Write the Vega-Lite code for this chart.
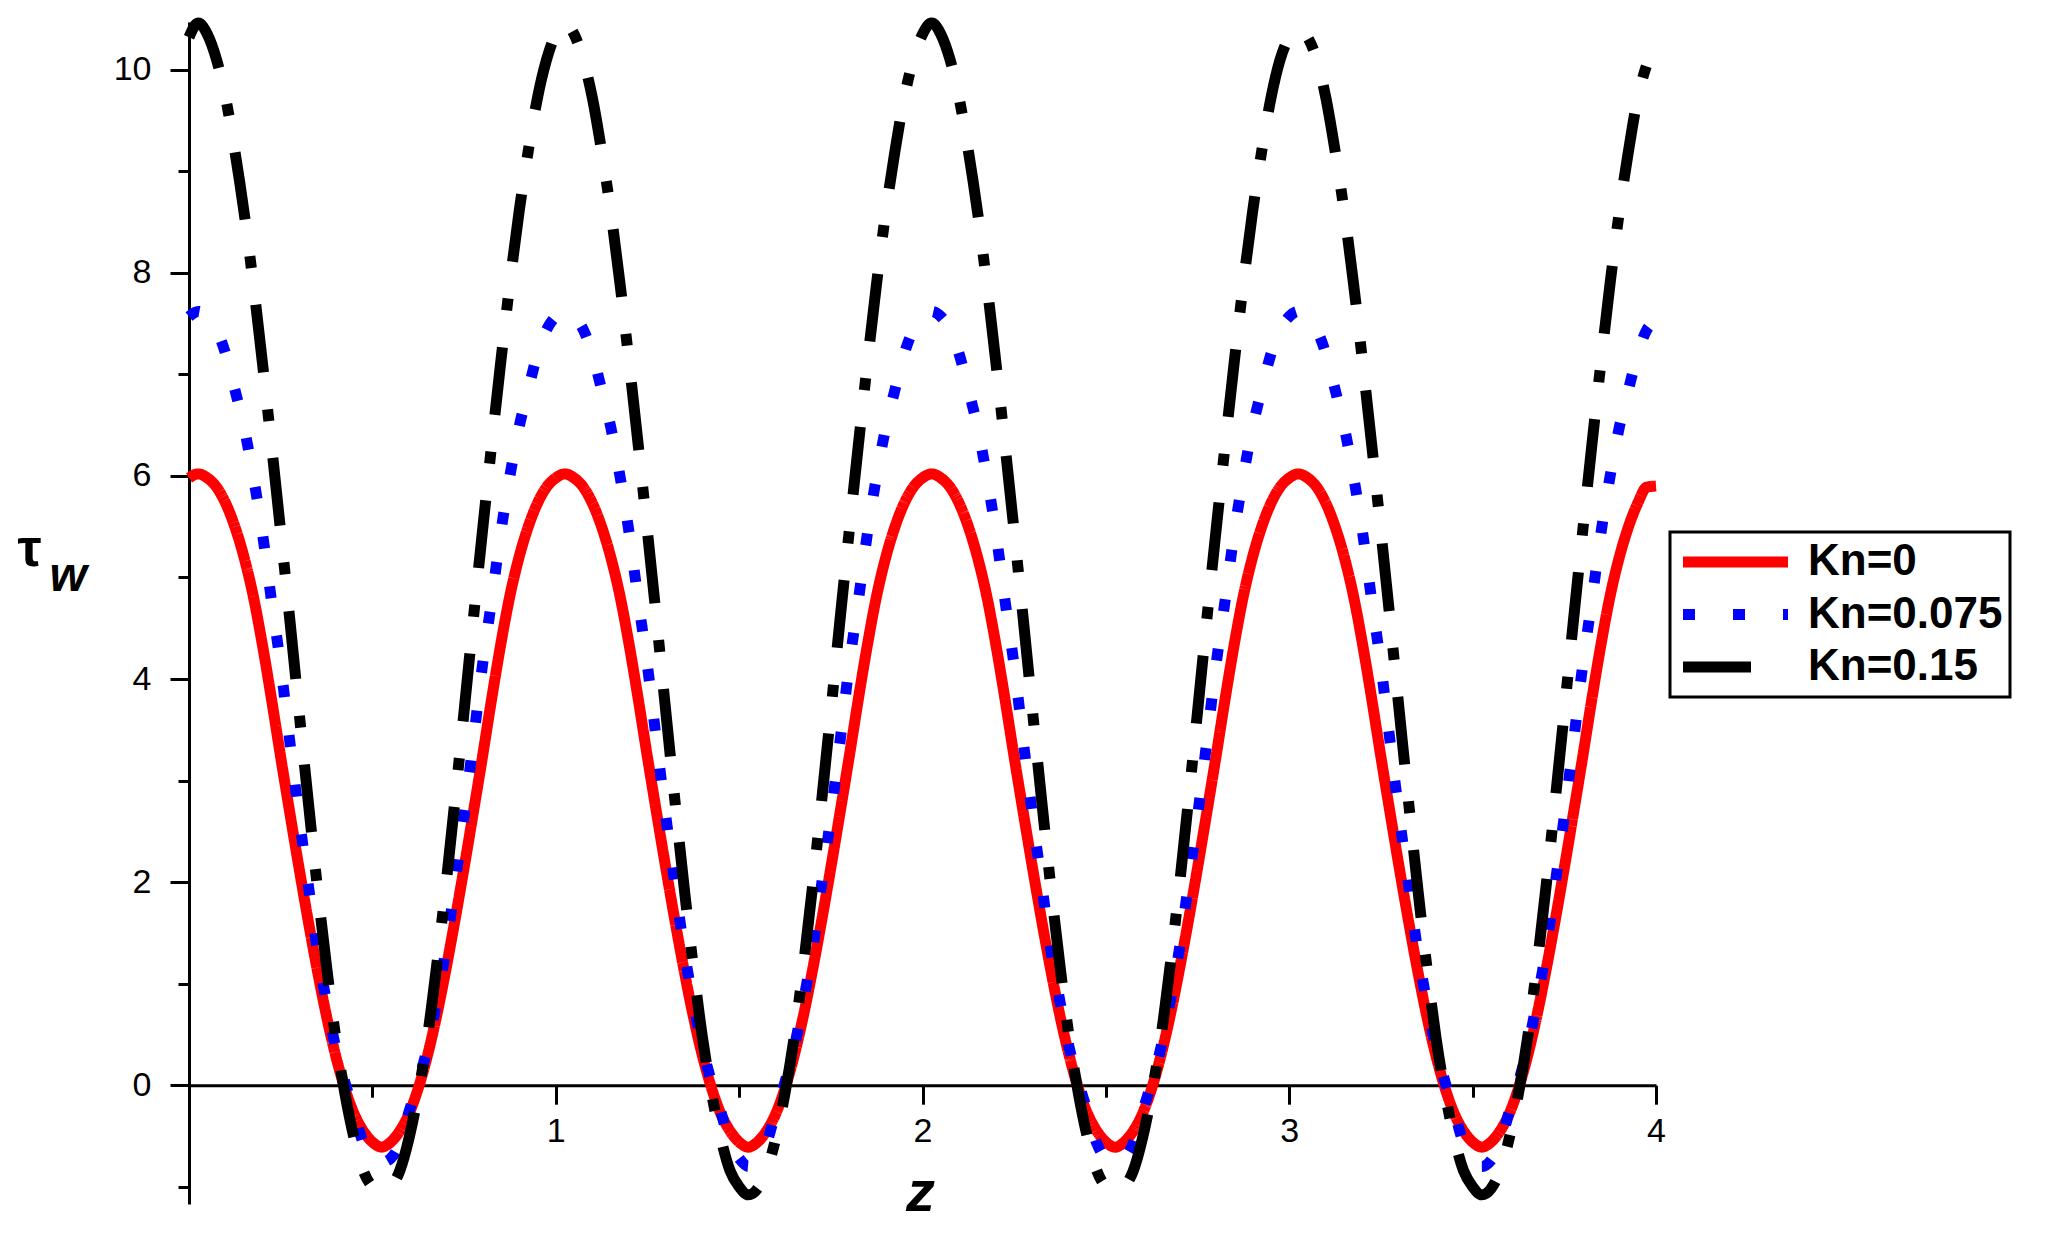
{
  "$schema": "https://vega.github.io/schema/vega-lite/v6.json",
  "autosize": {"type": "none"},
  "padding": {"left": 189, "top": 22, "right": 391, "bottom": 37},
  "width": 1467,
  "height": 1182,
  "background": "white",
  "layer": [
    {
      "data": {
        "values": [
          {"s":"Kn=0","z":0,"v":5.98},
          {"s":"Kn=0","z":0.025,"v":6.02},{"s":"Kn=0","z":0.05,"v":5.98},{"s":"Kn=0","z":0.075,"v":5.89},{"s":"Kn=0","z":0.1,"v":5.73},{"s":"Kn=0","z":0.125,"v":5.5},{"s":"Kn=0","z":0.15,"v":5.2},{"s":"Kn=0","z":0.175,"v":4.82},{"s":"Kn=0","z":0.2,"v":4.34},{"s":"Kn=0","z":0.225,"v":3.8},{"s":"Kn=0","z":0.25,"v":3.23},
          {"s":"Kn=0","z":0.275,"v":2.68},{"s":"Kn=0","z":0.3,"v":2.14},{"s":"Kn=0","z":0.325,"v":1.62},{"s":"Kn=0","z":0.35,"v":1.13},{"s":"Kn=0","z":0.375,"v":0.68},{"s":"Kn=0","z":0.4,"v":0.29},{"s":"Kn=0","z":0.425,"v":-0.03},{"s":"Kn=0","z":0.45,"v":-0.28},{"s":"Kn=0","z":0.475,"v":-0.45},{"s":"Kn=0","z":0.5,"v":-0.56},
          {"s":"Kn=0","z":0.525,"v":-0.61},{"s":"Kn=0","z":0.55,"v":-0.56},{"s":"Kn=0","z":0.575,"v":-0.45},{"s":"Kn=0","z":0.6,"v":-0.28},{"s":"Kn=0","z":0.625,"v":-0.03},{"s":"Kn=0","z":0.65,"v":0.29},{"s":"Kn=0","z":0.675,"v":0.68},{"s":"Kn=0","z":0.7,"v":1.13},{"s":"Kn=0","z":0.725,"v":1.62},{"s":"Kn=0","z":0.75,"v":2.14},
          {"s":"Kn=0","z":0.775,"v":2.68},{"s":"Kn=0","z":0.8,"v":3.23},{"s":"Kn=0","z":0.825,"v":3.8},{"s":"Kn=0","z":0.85,"v":4.34},{"s":"Kn=0","z":0.875,"v":4.82},{"s":"Kn=0","z":0.9,"v":5.2},{"s":"Kn=0","z":0.925,"v":5.5},{"s":"Kn=0","z":0.95,"v":5.73},{"s":"Kn=0","z":0.975,"v":5.89},{"s":"Kn=0","z":1,"v":5.98},
          {"s":"Kn=0","z":1.025,"v":6.02},{"s":"Kn=0","z":1.05,"v":5.98},{"s":"Kn=0","z":1.075,"v":5.89},{"s":"Kn=0","z":1.1,"v":5.73},{"s":"Kn=0","z":1.125,"v":5.5},{"s":"Kn=0","z":1.15,"v":5.2},{"s":"Kn=0","z":1.175,"v":4.82},{"s":"Kn=0","z":1.2,"v":4.34},{"s":"Kn=0","z":1.225,"v":3.8},{"s":"Kn=0","z":1.25,"v":3.23},
          {"s":"Kn=0","z":1.275,"v":2.68},{"s":"Kn=0","z":1.3,"v":2.14},{"s":"Kn=0","z":1.325,"v":1.62},{"s":"Kn=0","z":1.35,"v":1.13},{"s":"Kn=0","z":1.375,"v":0.68},{"s":"Kn=0","z":1.4,"v":0.29},{"s":"Kn=0","z":1.425,"v":-0.03},{"s":"Kn=0","z":1.45,"v":-0.28},{"s":"Kn=0","z":1.475,"v":-0.45},{"s":"Kn=0","z":1.5,"v":-0.56},
          {"s":"Kn=0","z":1.525,"v":-0.61},{"s":"Kn=0","z":1.55,"v":-0.56},{"s":"Kn=0","z":1.575,"v":-0.45},{"s":"Kn=0","z":1.6,"v":-0.28},{"s":"Kn=0","z":1.625,"v":-0.03},{"s":"Kn=0","z":1.65,"v":0.29},{"s":"Kn=0","z":1.675,"v":0.68},{"s":"Kn=0","z":1.7,"v":1.13},{"s":"Kn=0","z":1.725,"v":1.62},{"s":"Kn=0","z":1.75,"v":2.14},
          {"s":"Kn=0","z":1.775,"v":2.68},{"s":"Kn=0","z":1.8,"v":3.23},{"s":"Kn=0","z":1.825,"v":3.8},{"s":"Kn=0","z":1.85,"v":4.34},{"s":"Kn=0","z":1.875,"v":4.82},{"s":"Kn=0","z":1.9,"v":5.2},{"s":"Kn=0","z":1.925,"v":5.5},{"s":"Kn=0","z":1.95,"v":5.73},{"s":"Kn=0","z":1.975,"v":5.89},{"s":"Kn=0","z":2,"v":5.98},
          {"s":"Kn=0","z":2.025,"v":6.02},{"s":"Kn=0","z":2.05,"v":5.98},{"s":"Kn=0","z":2.075,"v":5.89},{"s":"Kn=0","z":2.1,"v":5.73},{"s":"Kn=0","z":2.125,"v":5.5},{"s":"Kn=0","z":2.15,"v":5.2},{"s":"Kn=0","z":2.175,"v":4.82},{"s":"Kn=0","z":2.2,"v":4.34},{"s":"Kn=0","z":2.225,"v":3.8},{"s":"Kn=0","z":2.25,"v":3.23},
          {"s":"Kn=0","z":2.275,"v":2.68},{"s":"Kn=0","z":2.3,"v":2.14},{"s":"Kn=0","z":2.325,"v":1.62},{"s":"Kn=0","z":2.35,"v":1.13},{"s":"Kn=0","z":2.375,"v":0.68},{"s":"Kn=0","z":2.4,"v":0.29},{"s":"Kn=0","z":2.425,"v":-0.03},{"s":"Kn=0","z":2.45,"v":-0.28},{"s":"Kn=0","z":2.475,"v":-0.45},{"s":"Kn=0","z":2.5,"v":-0.56},
          {"s":"Kn=0","z":2.525,"v":-0.61},{"s":"Kn=0","z":2.55,"v":-0.56},{"s":"Kn=0","z":2.575,"v":-0.45},{"s":"Kn=0","z":2.6,"v":-0.28},{"s":"Kn=0","z":2.625,"v":-0.03},{"s":"Kn=0","z":2.65,"v":0.29},{"s":"Kn=0","z":2.675,"v":0.68},{"s":"Kn=0","z":2.7,"v":1.13},{"s":"Kn=0","z":2.725,"v":1.62},{"s":"Kn=0","z":2.75,"v":2.14},
          {"s":"Kn=0","z":2.775,"v":2.68},{"s":"Kn=0","z":2.8,"v":3.23},{"s":"Kn=0","z":2.825,"v":3.8},{"s":"Kn=0","z":2.85,"v":4.34},{"s":"Kn=0","z":2.875,"v":4.82},{"s":"Kn=0","z":2.9,"v":5.2},{"s":"Kn=0","z":2.925,"v":5.5},{"s":"Kn=0","z":2.95,"v":5.73},{"s":"Kn=0","z":2.975,"v":5.89},{"s":"Kn=0","z":3,"v":5.98},
          {"s":"Kn=0","z":3.025,"v":6.02},{"s":"Kn=0","z":3.05,"v":5.98},{"s":"Kn=0","z":3.075,"v":5.89},{"s":"Kn=0","z":3.1,"v":5.73},{"s":"Kn=0","z":3.125,"v":5.5},{"s":"Kn=0","z":3.15,"v":5.2},{"s":"Kn=0","z":3.175,"v":4.82},{"s":"Kn=0","z":3.2,"v":4.34},{"s":"Kn=0","z":3.225,"v":3.8},{"s":"Kn=0","z":3.25,"v":3.23},
          {"s":"Kn=0","z":3.275,"v":2.68},{"s":"Kn=0","z":3.3,"v":2.14},{"s":"Kn=0","z":3.325,"v":1.62},{"s":"Kn=0","z":3.35,"v":1.13},{"s":"Kn=0","z":3.375,"v":0.68},{"s":"Kn=0","z":3.4,"v":0.29},{"s":"Kn=0","z":3.425,"v":-0.03},{"s":"Kn=0","z":3.45,"v":-0.28},{"s":"Kn=0","z":3.475,"v":-0.45},{"s":"Kn=0","z":3.5,"v":-0.56},
          {"s":"Kn=0","z":3.525,"v":-0.61},{"s":"Kn=0","z":3.55,"v":-0.56},{"s":"Kn=0","z":3.575,"v":-0.45},{"s":"Kn=0","z":3.6,"v":-0.28},{"s":"Kn=0","z":3.625,"v":-0.03},{"s":"Kn=0","z":3.65,"v":0.29},{"s":"Kn=0","z":3.675,"v":0.68},{"s":"Kn=0","z":3.7,"v":1.13},{"s":"Kn=0","z":3.725,"v":1.62},{"s":"Kn=0","z":3.75,"v":2.14},
          {"s":"Kn=0","z":3.775,"v":2.68},{"s":"Kn=0","z":3.8,"v":3.23},{"s":"Kn=0","z":3.825,"v":3.8},{"s":"Kn=0","z":3.85,"v":4.34},{"s":"Kn=0","z":3.875,"v":4.82},{"s":"Kn=0","z":3.9,"v":5.2},{"s":"Kn=0","z":3.925,"v":5.5},{"s":"Kn=0","z":3.95,"v":5.73},{"s":"Kn=0","z":3.975,"v":5.89},{"s":"Kn=0","z":4,"v":5.9},

          {"s":"Kn=0.075","z":0,"v":7.57},
          {"s":"Kn=0.075","z":0.025,"v":7.62},{"s":"Kn=0.075","z":0.05,"v":7.57},{"s":"Kn=0.075","z":0.075,"v":7.44},{"s":"Kn=0.075","z":0.1,"v":7.2},{"s":"Kn=0.075","z":0.125,"v":6.85},{"s":"Kn=0.075","z":0.15,"v":6.48},{"s":"Kn=0.075","z":0.175,"v":6.0},{"s":"Kn=0.075","z":0.2,"v":5.44},{"s":"Kn=0.075","z":0.225,"v":4.77},{"s":"Kn=0.075","z":0.25,"v":4.13},
          {"s":"Kn=0.075","z":0.275,"v":3.38},{"s":"Kn=0.075","z":0.3,"v":2.65},{"s":"Kn=0.075","z":0.325,"v":1.98},{"s":"Kn=0.075","z":0.35,"v":1.33},{"s":"Kn=0.075","z":0.375,"v":0.82},{"s":"Kn=0.075","z":0.4,"v":0.37},{"s":"Kn=0.075","z":0.425,"v":0.03},{"s":"Kn=0.075","z":0.45,"v":-0.26},{"s":"Kn=0.075","z":0.475,"v":-0.57},{"s":"Kn=0.075","z":0.5,"v":-0.72},
          {"s":"Kn=0.075","z":0.525,"v":-0.76},{"s":"Kn=0.075","z":0.55,"v":-0.72},{"s":"Kn=0.075","z":0.575,"v":-0.57},{"s":"Kn=0.075","z":0.6,"v":-0.26},{"s":"Kn=0.075","z":0.625,"v":0.03},{"s":"Kn=0.075","z":0.65,"v":0.37},{"s":"Kn=0.075","z":0.675,"v":0.82},{"s":"Kn=0.075","z":0.7,"v":1.33},{"s":"Kn=0.075","z":0.725,"v":1.98},{"s":"Kn=0.075","z":0.75,"v":2.65},
          {"s":"Kn=0.075","z":0.775,"v":3.38},{"s":"Kn=0.075","z":0.8,"v":4.13},{"s":"Kn=0.075","z":0.825,"v":4.77},{"s":"Kn=0.075","z":0.85,"v":5.44},{"s":"Kn=0.075","z":0.875,"v":6.0},{"s":"Kn=0.075","z":0.9,"v":6.48},{"s":"Kn=0.075","z":0.925,"v":6.85},{"s":"Kn=0.075","z":0.95,"v":7.2},{"s":"Kn=0.075","z":0.975,"v":7.44},{"s":"Kn=0.075","z":1,"v":7.57},
          {"s":"Kn=0.075","z":1.025,"v":7.62},{"s":"Kn=0.075","z":1.05,"v":7.57},{"s":"Kn=0.075","z":1.075,"v":7.44},{"s":"Kn=0.075","z":1.1,"v":7.2},{"s":"Kn=0.075","z":1.125,"v":6.85},{"s":"Kn=0.075","z":1.15,"v":6.48},{"s":"Kn=0.075","z":1.175,"v":6.0},{"s":"Kn=0.075","z":1.2,"v":5.44},{"s":"Kn=0.075","z":1.225,"v":4.77},{"s":"Kn=0.075","z":1.25,"v":4.13},
          {"s":"Kn=0.075","z":1.275,"v":3.38},{"s":"Kn=0.075","z":1.3,"v":2.65},{"s":"Kn=0.075","z":1.325,"v":1.98},{"s":"Kn=0.075","z":1.35,"v":1.33},{"s":"Kn=0.075","z":1.375,"v":0.82},{"s":"Kn=0.075","z":1.4,"v":0.37},{"s":"Kn=0.075","z":1.425,"v":0.03},{"s":"Kn=0.075","z":1.45,"v":-0.26},{"s":"Kn=0.075","z":1.475,"v":-0.57},{"s":"Kn=0.075","z":1.5,"v":-0.72},
          {"s":"Kn=0.075","z":1.525,"v":-0.8},{"s":"Kn=0.075","z":1.55,"v":-0.74},{"s":"Kn=0.075","z":1.575,"v":-0.57},{"s":"Kn=0.075","z":1.6,"v":-0.26},{"s":"Kn=0.075","z":1.625,"v":0.03},{"s":"Kn=0.075","z":1.65,"v":0.37},{"s":"Kn=0.075","z":1.675,"v":0.82},{"s":"Kn=0.075","z":1.7,"v":1.33},{"s":"Kn=0.075","z":1.725,"v":1.98},{"s":"Kn=0.075","z":1.75,"v":2.65},
          {"s":"Kn=0.075","z":1.775,"v":3.38},{"s":"Kn=0.075","z":1.8,"v":4.13},{"s":"Kn=0.075","z":1.825,"v":4.77},{"s":"Kn=0.075","z":1.85,"v":5.44},{"s":"Kn=0.075","z":1.875,"v":6.0},{"s":"Kn=0.075","z":1.9,"v":6.48},{"s":"Kn=0.075","z":1.925,"v":6.85},{"s":"Kn=0.075","z":1.95,"v":7.2},{"s":"Kn=0.075","z":1.975,"v":7.44},{"s":"Kn=0.075","z":2,"v":7.57},
          {"s":"Kn=0.075","z":2.025,"v":7.62},{"s":"Kn=0.075","z":2.05,"v":7.57},{"s":"Kn=0.075","z":2.075,"v":7.44},{"s":"Kn=0.075","z":2.1,"v":7.2},{"s":"Kn=0.075","z":2.125,"v":6.85},{"s":"Kn=0.075","z":2.15,"v":6.48},{"s":"Kn=0.075","z":2.175,"v":6.0},{"s":"Kn=0.075","z":2.2,"v":5.44},{"s":"Kn=0.075","z":2.225,"v":4.77},{"s":"Kn=0.075","z":2.25,"v":4.13},
          {"s":"Kn=0.075","z":2.275,"v":3.38},{"s":"Kn=0.075","z":2.3,"v":2.65},{"s":"Kn=0.075","z":2.325,"v":1.98},{"s":"Kn=0.075","z":2.35,"v":1.33},{"s":"Kn=0.075","z":2.375,"v":0.82},{"s":"Kn=0.075","z":2.4,"v":0.37},{"s":"Kn=0.075","z":2.425,"v":0.03},{"s":"Kn=0.075","z":2.45,"v":-0.26},{"s":"Kn=0.075","z":2.475,"v":-0.57},{"s":"Kn=0.075","z":2.5,"v":-0.72},
          {"s":"Kn=0.075","z":2.525,"v":-0.76},{"s":"Kn=0.075","z":2.55,"v":-0.72},{"s":"Kn=0.075","z":2.575,"v":-0.57},{"s":"Kn=0.075","z":2.6,"v":-0.26},{"s":"Kn=0.075","z":2.625,"v":0.03},{"s":"Kn=0.075","z":2.65,"v":0.37},{"s":"Kn=0.075","z":2.675,"v":0.82},{"s":"Kn=0.075","z":2.7,"v":1.33},{"s":"Kn=0.075","z":2.725,"v":1.98},{"s":"Kn=0.075","z":2.75,"v":2.65},
          {"s":"Kn=0.075","z":2.775,"v":3.38},{"s":"Kn=0.075","z":2.8,"v":4.13},{"s":"Kn=0.075","z":2.825,"v":4.77},{"s":"Kn=0.075","z":2.85,"v":5.44},{"s":"Kn=0.075","z":2.875,"v":6.0},{"s":"Kn=0.075","z":2.9,"v":6.48},{"s":"Kn=0.075","z":2.925,"v":6.85},{"s":"Kn=0.075","z":2.95,"v":7.2},{"s":"Kn=0.075","z":2.975,"v":7.44},{"s":"Kn=0.075","z":3,"v":7.57},
          {"s":"Kn=0.075","z":3.025,"v":7.62},{"s":"Kn=0.075","z":3.05,"v":7.57},{"s":"Kn=0.075","z":3.075,"v":7.44},{"s":"Kn=0.075","z":3.1,"v":7.2},{"s":"Kn=0.075","z":3.125,"v":6.85},{"s":"Kn=0.075","z":3.15,"v":6.48},{"s":"Kn=0.075","z":3.175,"v":6.0},{"s":"Kn=0.075","z":3.2,"v":5.44},{"s":"Kn=0.075","z":3.225,"v":4.77},{"s":"Kn=0.075","z":3.25,"v":4.13},
          {"s":"Kn=0.075","z":3.275,"v":3.38},{"s":"Kn=0.075","z":3.3,"v":2.65},{"s":"Kn=0.075","z":3.325,"v":1.98},{"s":"Kn=0.075","z":3.35,"v":1.33},{"s":"Kn=0.075","z":3.375,"v":0.82},{"s":"Kn=0.075","z":3.4,"v":0.37},{"s":"Kn=0.075","z":3.425,"v":0.03},{"s":"Kn=0.075","z":3.45,"v":-0.26},{"s":"Kn=0.075","z":3.475,"v":-0.57},{"s":"Kn=0.075","z":3.5,"v":-0.72},
          {"s":"Kn=0.075","z":3.525,"v":-0.8},{"s":"Kn=0.075","z":3.55,"v":-0.74},{"s":"Kn=0.075","z":3.575,"v":-0.57},{"s":"Kn=0.075","z":3.6,"v":-0.26},{"s":"Kn=0.075","z":3.625,"v":0.03},{"s":"Kn=0.075","z":3.65,"v":0.37},{"s":"Kn=0.075","z":3.675,"v":0.82},{"s":"Kn=0.075","z":3.7,"v":1.33},{"s":"Kn=0.075","z":3.725,"v":1.98},{"s":"Kn=0.075","z":3.75,"v":2.65},
          {"s":"Kn=0.075","z":3.775,"v":3.38},{"s":"Kn=0.075","z":3.8,"v":4.13},{"s":"Kn=0.075","z":3.825,"v":4.77},{"s":"Kn=0.075","z":3.85,"v":5.44},{"s":"Kn=0.075","z":3.875,"v":6.0},{"s":"Kn=0.075","z":3.9,"v":6.48},{"s":"Kn=0.075","z":3.925,"v":6.85},{"s":"Kn=0.075","z":3.95,"v":7.2},{"s":"Kn=0.075","z":3.975,"v":7.44},{"s":"Kn=0.075","z":4,"v":7.52},

          {"s":"Kn=0.15","z":0,"v":10.32},
          {"s":"Kn=0.15","z":0.025,"v":10.46},{"s":"Kn=0.15","z":0.05,"v":10.35},{"s":"Kn=0.15","z":0.075,"v":10.1},{"s":"Kn=0.15","z":0.1,"v":9.72},{"s":"Kn=0.15","z":0.125,"v":9.2},{"s":"Kn=0.15","z":0.15,"v":8.6},{"s":"Kn=0.15","z":0.175,"v":7.9},{"s":"Kn=0.15","z":0.2,"v":7.12},{"s":"Kn=0.15","z":0.225,"v":6.3},{"s":"Kn=0.15","z":0.25,"v":5.45},
          {"s":"Kn=0.15","z":0.275,"v":4.58},{"s":"Kn=0.15","z":0.3,"v":3.68},{"s":"Kn=0.15","z":0.325,"v":2.8},{"s":"Kn=0.15","z":0.35,"v":1.95},{"s":"Kn=0.15","z":0.375,"v":1.17},{"s":"Kn=0.15","z":0.4,"v":0.47},{"s":"Kn=0.15","z":0.425,"v":-0.08},{"s":"Kn=0.15","z":0.45,"v":-0.52},{"s":"Kn=0.15","z":0.475,"v":-0.84},{"s":"Kn=0.15","z":0.5,"v":-1.0},
          {"s":"Kn=0.15","z":0.525,"v":-1.05},{"s":"Kn=0.15","z":0.55,"v":-1.0},{"s":"Kn=0.15","z":0.575,"v":-0.84},{"s":"Kn=0.15","z":0.6,"v":-0.52},{"s":"Kn=0.15","z":0.625,"v":-0.08},{"s":"Kn=0.15","z":0.65,"v":0.47},{"s":"Kn=0.15","z":0.675,"v":1.17},{"s":"Kn=0.15","z":0.7,"v":1.95},{"s":"Kn=0.15","z":0.725,"v":2.8},{"s":"Kn=0.15","z":0.75,"v":3.68},
          {"s":"Kn=0.15","z":0.775,"v":4.58},{"s":"Kn=0.15","z":0.8,"v":5.45},{"s":"Kn=0.15","z":0.825,"v":6.3},{"s":"Kn=0.15","z":0.85,"v":7.12},{"s":"Kn=0.15","z":0.875,"v":7.9},{"s":"Kn=0.15","z":0.9,"v":8.6},{"s":"Kn=0.15","z":0.925,"v":9.2},{"s":"Kn=0.15","z":0.95,"v":9.72},{"s":"Kn=0.15","z":0.975,"v":10.1},{"s":"Kn=0.15","z":1,"v":10.35},
          {"s":"Kn=0.15","z":1.025,"v":10.46},{"s":"Kn=0.15","z":1.05,"v":10.35},{"s":"Kn=0.15","z":1.075,"v":10.1},{"s":"Kn=0.15","z":1.1,"v":9.72},{"s":"Kn=0.15","z":1.125,"v":9.2},{"s":"Kn=0.15","z":1.15,"v":8.6},{"s":"Kn=0.15","z":1.175,"v":7.9},{"s":"Kn=0.15","z":1.2,"v":7.12},{"s":"Kn=0.15","z":1.225,"v":6.3},{"s":"Kn=0.15","z":1.25,"v":5.45},
          {"s":"Kn=0.15","z":1.275,"v":4.58},{"s":"Kn=0.15","z":1.3,"v":3.68},{"s":"Kn=0.15","z":1.325,"v":2.8},{"s":"Kn=0.15","z":1.35,"v":1.95},{"s":"Kn=0.15","z":1.375,"v":1.17},{"s":"Kn=0.15","z":1.4,"v":0.47},{"s":"Kn=0.15","z":1.425,"v":-0.08},{"s":"Kn=0.15","z":1.45,"v":-0.52},{"s":"Kn=0.15","z":1.475,"v":-0.84},{"s":"Kn=0.15","z":1.5,"v":-1.0},
          {"s":"Kn=0.15","z":1.525,"v":-1.08},{"s":"Kn=0.15","z":1.55,"v":-1.02},{"s":"Kn=0.15","z":1.575,"v":-0.84},{"s":"Kn=0.15","z":1.6,"v":-0.52},{"s":"Kn=0.15","z":1.625,"v":-0.08},{"s":"Kn=0.15","z":1.65,"v":0.47},{"s":"Kn=0.15","z":1.675,"v":1.17},{"s":"Kn=0.15","z":1.7,"v":1.95},{"s":"Kn=0.15","z":1.725,"v":2.8},{"s":"Kn=0.15","z":1.75,"v":3.68},
          {"s":"Kn=0.15","z":1.775,"v":4.58},{"s":"Kn=0.15","z":1.8,"v":5.45},{"s":"Kn=0.15","z":1.825,"v":6.3},{"s":"Kn=0.15","z":1.85,"v":7.12},{"s":"Kn=0.15","z":1.875,"v":7.9},{"s":"Kn=0.15","z":1.9,"v":8.6},{"s":"Kn=0.15","z":1.925,"v":9.2},{"s":"Kn=0.15","z":1.95,"v":9.72},{"s":"Kn=0.15","z":1.975,"v":10.1},{"s":"Kn=0.15","z":2,"v":10.35},
          {"s":"Kn=0.15","z":2.025,"v":10.46},{"s":"Kn=0.15","z":2.05,"v":10.35},{"s":"Kn=0.15","z":2.075,"v":10.1},{"s":"Kn=0.15","z":2.1,"v":9.72},{"s":"Kn=0.15","z":2.125,"v":9.2},{"s":"Kn=0.15","z":2.15,"v":8.6},{"s":"Kn=0.15","z":2.175,"v":7.9},{"s":"Kn=0.15","z":2.2,"v":7.12},{"s":"Kn=0.15","z":2.225,"v":6.3},{"s":"Kn=0.15","z":2.25,"v":5.45},
          {"s":"Kn=0.15","z":2.275,"v":4.58},{"s":"Kn=0.15","z":2.3,"v":3.68},{"s":"Kn=0.15","z":2.325,"v":2.8},{"s":"Kn=0.15","z":2.35,"v":1.95},{"s":"Kn=0.15","z":2.375,"v":1.17},{"s":"Kn=0.15","z":2.4,"v":0.47},{"s":"Kn=0.15","z":2.425,"v":-0.08},{"s":"Kn=0.15","z":2.45,"v":-0.52},{"s":"Kn=0.15","z":2.475,"v":-0.84},{"s":"Kn=0.15","z":2.5,"v":-1.0},
          {"s":"Kn=0.15","z":2.525,"v":-1.05},{"s":"Kn=0.15","z":2.55,"v":-1.0},{"s":"Kn=0.15","z":2.575,"v":-0.84},{"s":"Kn=0.15","z":2.6,"v":-0.52},{"s":"Kn=0.15","z":2.625,"v":-0.08},{"s":"Kn=0.15","z":2.65,"v":0.47},{"s":"Kn=0.15","z":2.675,"v":1.17},{"s":"Kn=0.15","z":2.7,"v":1.95},{"s":"Kn=0.15","z":2.725,"v":2.8},{"s":"Kn=0.15","z":2.75,"v":3.68},
          {"s":"Kn=0.15","z":2.775,"v":4.58},{"s":"Kn=0.15","z":2.8,"v":5.45},{"s":"Kn=0.15","z":2.825,"v":6.3},{"s":"Kn=0.15","z":2.85,"v":7.12},{"s":"Kn=0.15","z":2.875,"v":7.9},{"s":"Kn=0.15","z":2.9,"v":8.6},{"s":"Kn=0.15","z":2.925,"v":9.2},{"s":"Kn=0.15","z":2.95,"v":9.72},{"s":"Kn=0.15","z":2.975,"v":10.1},{"s":"Kn=0.15","z":3,"v":10.32},
          {"s":"Kn=0.15","z":3.025,"v":10.4},{"s":"Kn=0.15","z":3.05,"v":10.32},{"s":"Kn=0.15","z":3.075,"v":10.1},{"s":"Kn=0.15","z":3.1,"v":9.72},{"s":"Kn=0.15","z":3.125,"v":9.2},{"s":"Kn=0.15","z":3.15,"v":8.6},{"s":"Kn=0.15","z":3.175,"v":7.9},{"s":"Kn=0.15","z":3.2,"v":7.12},{"s":"Kn=0.15","z":3.225,"v":6.3},{"s":"Kn=0.15","z":3.25,"v":5.45},
          {"s":"Kn=0.15","z":3.275,"v":4.58},{"s":"Kn=0.15","z":3.3,"v":3.68},{"s":"Kn=0.15","z":3.325,"v":2.8},{"s":"Kn=0.15","z":3.35,"v":1.95},{"s":"Kn=0.15","z":3.375,"v":1.17},{"s":"Kn=0.15","z":3.4,"v":0.47},{"s":"Kn=0.15","z":3.425,"v":-0.08},{"s":"Kn=0.15","z":3.45,"v":-0.52},{"s":"Kn=0.15","z":3.475,"v":-0.84},{"s":"Kn=0.15","z":3.5,"v":-1.0},
          {"s":"Kn=0.15","z":3.525,"v":-1.08},{"s":"Kn=0.15","z":3.55,"v":-1.02},{"s":"Kn=0.15","z":3.575,"v":-0.84},{"s":"Kn=0.15","z":3.6,"v":-0.52},{"s":"Kn=0.15","z":3.625,"v":-0.08},{"s":"Kn=0.15","z":3.65,"v":0.47},{"s":"Kn=0.15","z":3.675,"v":1.17},{"s":"Kn=0.15","z":3.7,"v":1.95},{"s":"Kn=0.15","z":3.725,"v":2.8},{"s":"Kn=0.15","z":3.75,"v":3.68},
          {"s":"Kn=0.15","z":3.775,"v":4.58},{"s":"Kn=0.15","z":3.8,"v":5.45},{"s":"Kn=0.15","z":3.825,"v":6.3},{"s":"Kn=0.15","z":3.85,"v":7.12},{"s":"Kn=0.15","z":3.875,"v":7.9},{"s":"Kn=0.15","z":3.9,"v":8.6},{"s":"Kn=0.15","z":3.925,"v":9.2},{"s":"Kn=0.15","z":3.95,"v":9.72},{"s":"Kn=0.15","z":3.975,"v":10.05},{"s":"Kn=0.15","z":4,"v":10.25}
        ]
      },
      "mark": {"type": "line", "strokeWidth": 11, "strokeCap": "butt", "strokeJoin": "round", "interpolate": "monotone", "clip": false},
      "encoding": {
        "x": {
          "field": "z",
          "type": "quantitative",
          "scale": {"domain": [0, 4], "nice": false, "zero": false},
          "axis": {
            "orient": "bottom",
            "values": [1, 2, 3, 4],
            "format": "d",
            "offset": -118.8,
            "grid": false,
            "domainColor": "black",
            "domainWidth": 3,
            "tickColor": "black",
            "tickWidth": 3,
            "tickSize": 19,
            "labelFont": "Liberation Sans",
            "labelFontSize": 34,
            "labelColor": "black",
            "labelPadding": 10,
            "labelFlush": false,
            "labelOverlap": false,
            "title": "z",
            "titleFont": "Liberation Sans",
            "titleFontSize": 58,
            "titleFontWeight": "bold",
            "titleFontStyle": "italic",
            "titleColor": "black",
            "titleX": 731,
            "titleY": 125,
            "titleAlign": "center",
            "titleBaseline": "alphabetic"
          }
        },
        "y": {
          "field": "v",
          "type": "quantitative",
          "scale": {"domain": [-1.17, 10.47], "nice": false, "zero": false},
          "axis": {
            "orient": "left",
            "values": [-1, 0, 1, 2, 3, 4, 5, 6, 7, 8, 9, 10],
            "format": "d",
            "labelExpr": "datum.value >= 0 && datum.value % 2 == 0 ? datum.label : ''",
            "grid": false,
            "domainColor": "black",
            "domainWidth": 3,
            "tickColor": "black",
            "tickWidth": 3,
            "tickSize": {"condition": {"test": "datum.value % 2 == 0", "value": 19}, "value": 11},
            "labelFont": "Liberation Sans",
            "labelFontSize": 34,
            "labelColor": "black",
            "labelPadding": 19,
            "labelOverlap": false,
            "labelFlush": false,
            "title": "τ",
            "titleFont": "Liberation Sans",
            "titleFontSize": 54,
            "titleFontWeight": "bold",
            "titleColor": "black",
            "titleAngle": 0,
            "titleAlign": "left",
            "titleBaseline": "alphabetic",
            "titleX": -172,
            "titleY": 543
          }
        },
        "color": {
          "field": "s",
          "type": "nominal",
          "title": null,
          "scale": {"domain": ["Kn=0", "Kn=0.075", "Kn=0.15"], "range": ["#ff0000", "#0000ff", "#000000"]}
        },
        "strokeDash": {
          "field": "s",
          "type": "nominal",
          "title": null,
          "scale": {"domain": ["Kn=0", "Kn=0.075", "Kn=0.15"], "range": [[1, 0], [12, 38], [68, 37, 12, 37]]}
        }
      }
    },
    {
      "data": {"values": [{"m": 0.5}]},
      "mark": {"type": "point", "opacity": 0},
      "encoding": {
        "x": {
          "field": "m",
          "type": "quantitative",
          "axis": {
            "orient": "bottom",
            "values": [0.5, 1.5, 2.5, 3.5],
            "offset": -118.8,
            "domain": false,
            "grid": false,
            "labels": false,
            "title": null,
            "tickColor": "black",
            "tickWidth": 3,
            "tickSize": 12
          }
        },
        "y": {
          "field": "m",
          "type": "quantitative",
          "axis": {
            "orient": "left",
            "domain": false,
            "ticks": false,
            "labels": false,
            "grid": false,
            "title": "w",
            "titleFont": "Liberation Sans",
            "titleFontSize": 48,
            "titleFontWeight": "bold",
            "titleFontStyle": "italic",
            "titleColor": "black",
            "titleAngle": 0,
            "titleAlign": "left",
            "titleBaseline": "alphabetic",
            "titleX": -140,
            "titleY": 568
          }
        }
      }
    }
  ],
  "resolve": {"axis": {"x": "independent", "y": "independent"}},
  "config": {
    "view": {"stroke": null},
    "legend": {
      "orient": "none",
      "legendX": 1481,
      "legendY": 510,
      "symbolType": "stroke",
      "symbolSize": 11025,
      "symbolStrokeWidth": 11,
      "clipHeight": 45,
      "rowPadding": 7.5,
      "padding": 7.5,
      "labelOffset": 14.5,
      "labelFont": "Liberation Sans",
      "labelFontSize": 44,
      "labelFontWeight": "bold",
      "labelColor": "black",
      "labelLimit": 400,
      "strokeColor": "black",
      "strokeWidth": 3
    }
  }
}
